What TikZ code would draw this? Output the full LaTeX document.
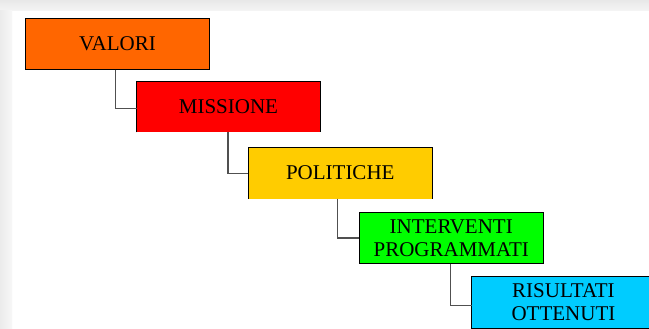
\documentclass[tikz,border=0pt]{standalone}
\usepackage{fontspec}
\setmainfont{Liberation Serif}
\usetikzlibrary{calc}

\definecolor{cOrange}{HTML}{FF6600}
\definecolor{cRed}{HTML}{FF0000}
\definecolor{cYellow}{HTML}{FFCC00}
\definecolor{cGreen}{HTML}{00FF00}
\definecolor{cCyan}{HTML}{00CCFF}
\definecolor{linkgray}{HTML}{505050}

\tikzset{
  stagebox/.style={anchor=north west, minimum width=183.5pt, minimum height=51pt,
    inner sep=0pt, align=center, text=black,
    font=\fontsize{21}{23.5}\selectfont},
  edge/.style={draw=black, line width=0.9pt},
  link/.style={draw=linkgray, line width=1.2pt},
}

\begin{document}
\begin{tikzpicture}[x=1pt, y=-1pt]
  \useasboundingbox (0,0) rectangle (649,329);
  \clip (0,0) rectangle (649,329);

  % page shadow along the top and left edges
  \fill[white] (0,0) rectangle (649,329);
  \shade[top color=black!9, bottom color=black!4] (0,0) rectangle (649,11);
  \shade[left color=black!8, right color=black!3] (0,11) rectangle (12,329);

  % stages
  \node[stagebox, fill=cOrange] (val) at (25.5,18.3) {VALORI};
  \node[stagebox, fill=cRed]    (mis) at (136.5,81) {MISSIONE};
  \node[stagebox, fill=cYellow] (pol) at (248.3,147.3) {POLITICHE};
  \node[stagebox, fill=cGreen]  (int) at (359.3,212.3) {INTERVENTI\\PROGRAMMATI};
  \node[stagebox, fill=cCyan]   (ris) at (471.5,276.7) {RISULTATI\\OTTENUTI};

  % outlines (the middle stages are open at the bottom)
  \draw[edge] (val.north west) rectangle (val.south east);
  \draw[edge] (mis.south west) -- (mis.north west) -- (mis.north east) -- (mis.south east);
  \draw[edge] (pol.south west) -- (pol.north west) -- (pol.north east) -- (pol.south east);
  \draw[edge] (int.north west) rectangle (int.south east);
  \draw[edge] (ris.north west) rectangle (ris.south east);

  % elbow connectors
  \draw[link] ([xshift=-2pt]val.south) |- ([yshift=-1.5pt]mis.west);
  \draw[link] ([xshift=-0.5pt]mis.south) |- ([yshift=-0.5pt]pol.west);
  \draw[link] ([xshift=-3pt]pol.south) |- (int.west);
  \draw[link] ([xshift=-1pt]int.south) |- ([yshift=-3pt]ris.west);
\end{tikzpicture}
\end{document}
